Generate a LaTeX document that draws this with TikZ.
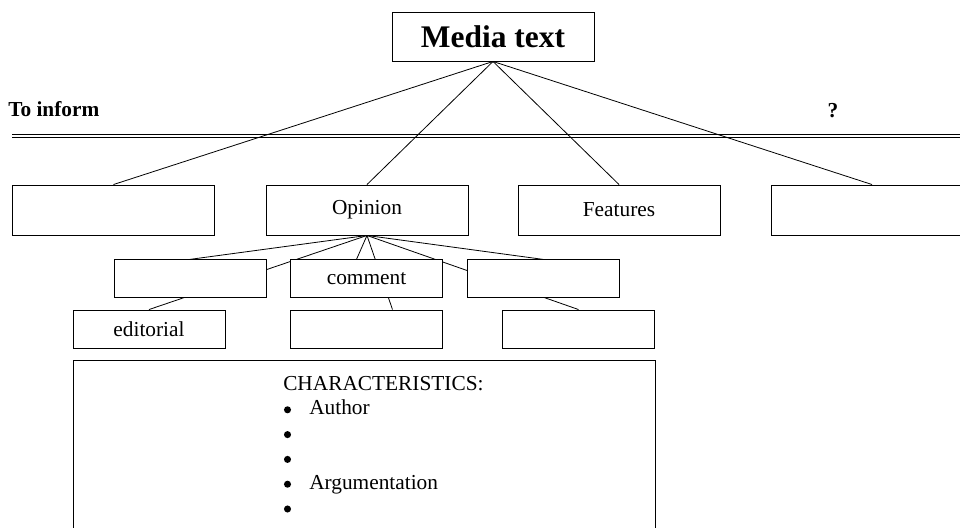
\documentclass[tikz,border=0pt]{standalone}
\usepackage{fontspec}
\setmainfont{Liberation Serif}
\usepackage{tikz}
\usetikzlibrary{backgrounds}
\tikzset{
  box/.style={draw, line width=0.7pt, fill=white, inner sep=0pt,
    minimum width=151.5pt, minimum height=37.5pt, font=\fontsize{16}{19}\selectfont},
  subbox/.style={box, minimum width=114pt, minimum height=28pt},
  label/.style={inner sep=0pt, anchor=base west, font=\fontsize{16}{19}\selectfont},
  dot/.style={circle, fill, inner sep=0pt, minimum size=5.3pt},
}
\def\twig{\draw[line width=0.6pt]}

\begin{document}
\begin{tikzpicture}[x=0.75pt,y=-0.75pt]
\clip (0,0) rectangle (960,528);
% top
\node[box, minimum height=36.75pt, font=\bfseries\fontsize{23.6}{28}\selectfont] (media) at (493,36.5) {Media text};
\node[label, font=\bfseries\fontsize{16}{19}\selectfont] (inform) at (8,117) {To inform};
\node[label, anchor=base, font=\bfseries\fontsize{16}{19}\selectfont] (query) at (833,117.5) {?};
\coordinate (railL) at (12,136);
\coordinate (railR) at (960,136);
% genres
\node[box] (news)  at (113.5,210) {};
\node[box] (opin)  at (367,210)   {Opinion};
\node[box] (feat)  at (619,210)   {Features};
\node[box] (other) at (872,210)   {};
% opinion subtypes
\node[subbox] (subA) at (190,278.5)   {};
\node[subbox] (comm) at (366.5,278.5) {comment};
\node[subbox] (subC) at (543,278.5)   {};
\node[subbox, minimum height=28.5pt] (edit) at (149,329)   {editorial};
\node[subbox, minimum height=28.5pt] (subE) at (366.5,329) {};
\node[subbox, minimum height=28.5pt] (subF) at (578.5,329) {};
% characteristics
\node[box, minimum width=436.5pt, minimum height=135pt] (chars) at (364,450) {};
\node[label] (head) at (283,390) {CHARACTERISTICS:};
\foreach \txt [count=\i] in {Author,{},{},Argumentation,{}}
  \node[dot] (bul\i) at (287.5,385+24.8*\i) {}
    node[label] (item\i) at (309,390+24.8*\i) {\txt};
% connectors
\begin{scope}[on background layer]
  \draw[double, double distance=1.8pt, line width=0.7pt] (railL) -- (railR);
  \twig (media.south) -- (news.north);
  \twig (media.south) -- (opin.north);
  \twig (media.south) -- (feat.north);
  \twig (media.south) -- (other.north);
  \twig (opin.south) -- (subA.north);
  \twig (opin.south) -- (edit.north);
  \twig (opin.south) -- ([xshift=-7.5pt]comm.north);
  \twig (opin.south) -- ([xshift=19.5pt]subE.north);
  \twig (opin.south) -- (subC.north);
  \twig (opin.south) -- (subF.north);
\end{scope}
\end{tikzpicture}
\end{document}
